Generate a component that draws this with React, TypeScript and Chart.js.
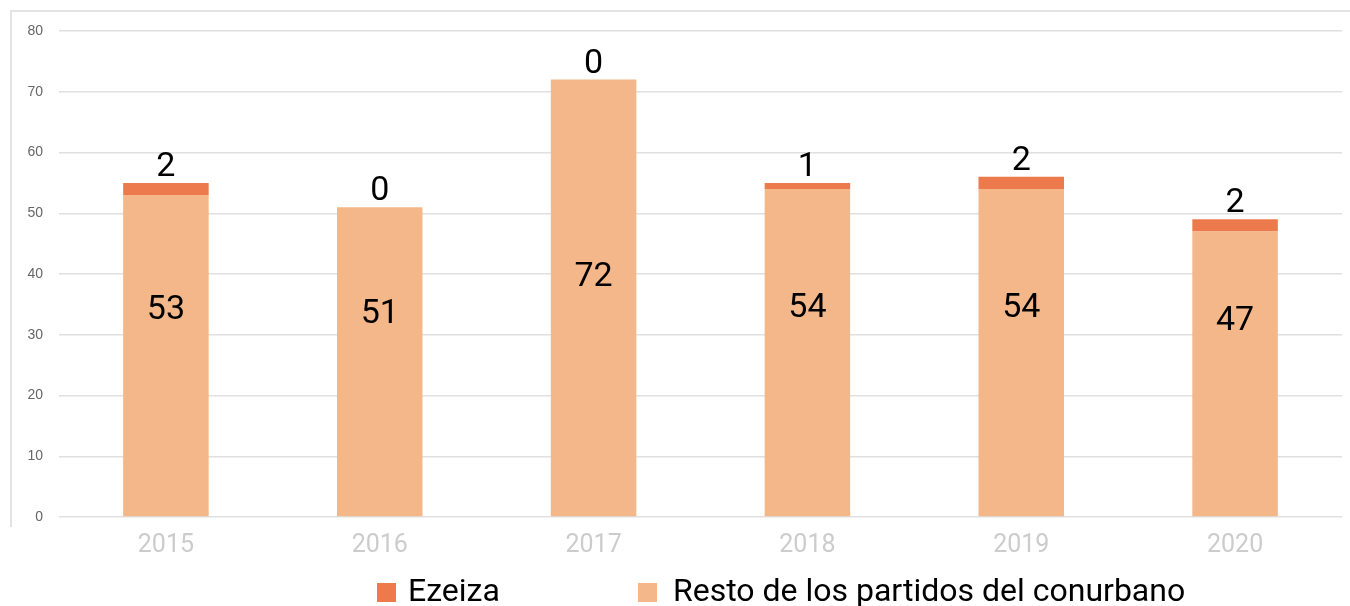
import React, { useEffect, useRef } from "react";
import { Chart, registerables } from "chart.js";

Chart.register(...registerables);

const years = ["2015", "2016", "2017", "2018", "2019", "2020"];
const resto = [53, 51, 72, 54, 54, 47];
const ezeiza = [2, 0, 0, 1, 2, 2];
const yTicks = { min: 0, max: 80, step: 10 };
const seriesNames = ["Ezeiza", "Resto de los partidos del conurbano"];

const C_EZEIZA = "#EC7A4D";
const C_RESTO = "#F4B789";

const overlay = {
  id: "overlay",
  beforeDraw(chart: any) {
    const ctx = chart.ctx;
    ctx.save();
    ctx.strokeStyle = "#e3e3e3";
    ctx.lineWidth = 2;
    ctx.beginPath();
    ctx.moveTo(11, 527);
    ctx.lineTo(11, 11);
    ctx.lineTo(1350, 11);
    ctx.stroke();
    ctx.restore();
  },
  afterDatasetsDraw(chart: any) {
    const ctx = chart.ctx;
    const y = chart.scales.y;
    const metaResto = chart.getDatasetMeta(0);
    const metaEz = chart.getDatasetMeta(1);
    ctx.save();
    ctx.fillStyle = "#000";
    ctx.font = "34px Roboto";
    ctx.textAlign = "center";
    resto.forEach((v, i) => {
      const bar = metaResto.data[i];
      ctx.textBaseline = "middle";
      ctx.fillText(String(v), bar.x, y.getPixelForValue(v * 0.29 + 18.6));
      const top = y.getPixelForValue(v + ezeiza[i]);
      ctx.textBaseline = "alphabetic";
      ctx.fillText(String(ezeiza[i]), metaEz.data[i].x, top - 7);
    });
    // legend
    ctx.font = "32px Roboto";
    ctx.textAlign = "left";
    ctx.textBaseline = "alphabetic";
    ctx.fillStyle = C_EZEIZA;
    ctx.fillRect(377, 583, 19, 19);
    ctx.fillStyle = "#000";
    ctx.fillText(seriesNames[0], 408, 601);
    ctx.fillStyle = C_RESTO;
    ctx.fillRect(638, 583, 19, 19);
    ctx.fillStyle = "#000";
    ctx.fillText(seriesNames[1], 673, 601);
    ctx.restore();
  },
};

export default function App() {
  const ref = useRef<HTMLCanvasElement>(null);
  useEffect(() => {
    document.body.style.margin = "0";
    const chart = new Chart(ref.current!, {
      type: "bar",
      data: {
        labels: years,
        datasets: [
          { label: seriesNames[1], data: resto, backgroundColor: C_RESTO, categoryPercentage: 1, barPercentage: 0.4 },
          { label: seriesNames[0], data: ezeiza, backgroundColor: C_EZEIZA, categoryPercentage: 1, barPercentage: 0.4 },
        ],
      },
      options: {
        responsive: false,
        animation: false,
        layout: { padding: { top: 31, right: 8, left: 0, bottom: 0 } },
        plugins: { legend: { display: false }, tooltip: { enabled: false } },
        scales: {
          x: {
            stacked: true,
            grid: { display: false },
            border: { display: false },
            ticks: { color: "#cccccc", font: { family: "Roboto", size: 25 }, padding: 6 },
            afterFit: (s: any) => { s.height = 89; },
          },
          y: {
            stacked: true,
            min: yTicks.min,
            max: yTicks.max,
            grid: { color: "#e0e0e0", lineWidth: 1.5, drawTicks: false },
            border: { display: false },
            ticks: { stepSize: yTicks.step, color: "#666", font: { family: "Liberation Sans", size: 14 }, padding: 16 },
            afterFit: (s: any) => { s.width = 59; },
          },
        },
      },
      plugins: [overlay],
    });
    return () => chart.destroy();
  }, []);
  return <canvas ref={ref} width={1350} height={606} style={{ display: "block" }} />;
}
